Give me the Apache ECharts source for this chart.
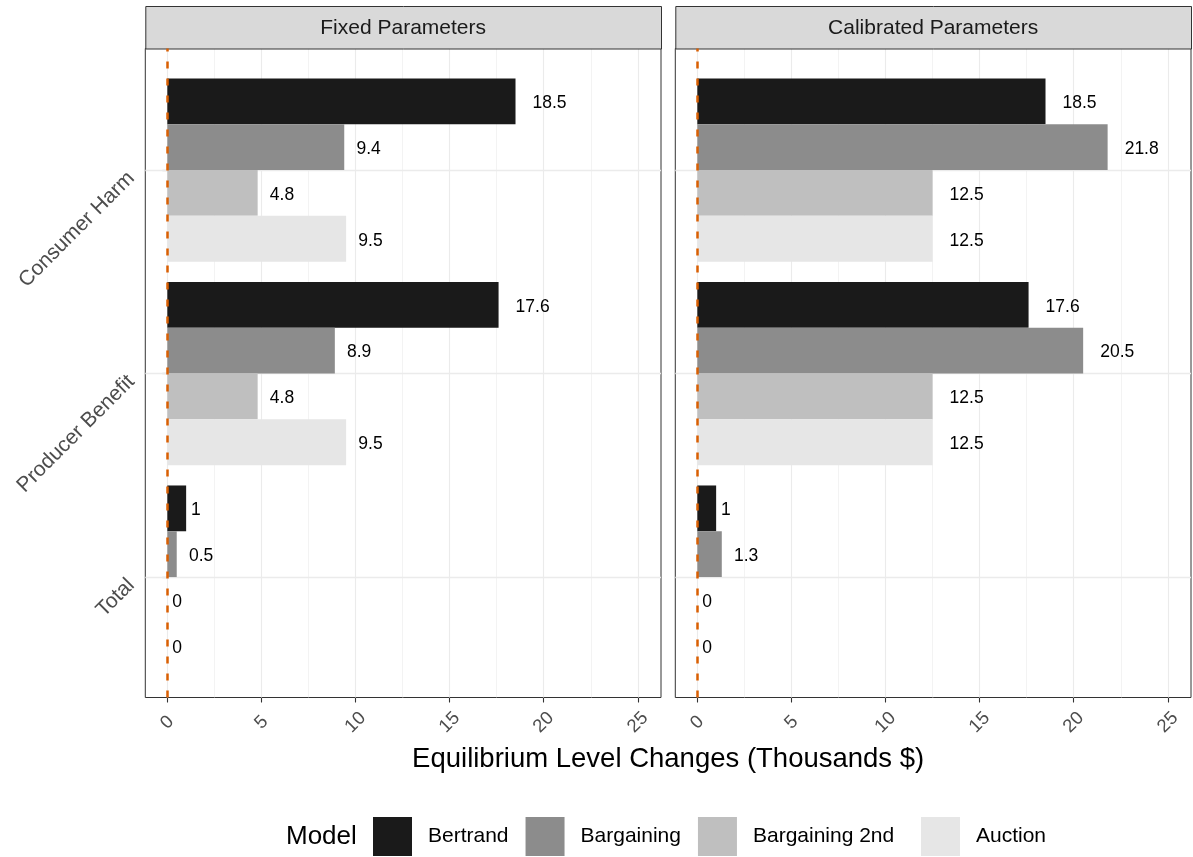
<!DOCTYPE html>
<html><head><meta charset="utf-8">
<script src="https://cdn.jsdelivr.net/npm/echarts@6/dist/echarts.min.js"></script>
<style>html,body{margin:0;padding:0;background:#fff}#c{width:1193px;height:857px}</style>
</head><body><div id="c"></div>
<script>
// ---------- data ----------
const categories = ['Consumer Harm', 'Producer Benefit', 'Total'];
const models = ['Bertrand', 'Bargaining', 'Bargaining 2nd', 'Auction'];
const panels = ['Fixed Parameters', 'Calibrated Parameters'];
const fixedBertrand = [18.5, 17.6, 1];
const fixedBargaining = [9.4, 8.9, 0.5];
const fixedBargaining2nd = [4.8, 4.8, 0];
const fixedAuction = [9.5, 9.5, 0];
const calibratedBertrand = [18.5, 17.6, 1];
const calibratedBargaining = [21.8, 20.5, 1.3];
const calibratedBargaining2nd = [12.5, 12.5, 0];
const calibratedAuction = [12.5, 12.5, 0];
const xTicks = [0, 5, 10, 15, 20, 25];
const xMinorTicks = [2.5, 7.5, 12.5, 17.5, 22.5];
const xTitle = 'Equilibrium Level Changes (Thousands $)';
const legendTitle = 'Model';

// ---------- style / layout ----------
const FONT = '"Liberation Sans", Arial, Helvetica, sans-serif';
const colors = ['#1a1a1a', '#8c8c8c', '#bfbfbf', '#e6e6e6'];
const panelData = [
  [fixedBertrand, fixedBargaining, fixedBargaining2nd, fixedAuction],
  [calibratedBertrand, calibratedBargaining, calibratedBargaining2nd, calibratedAuction]
];
const panelBoxes = [{ left: 145.3, width: 515.7 }, { left: 675.3, width: 515.7 }];
const panelTop = 48.5, panelHeight = 649;
const innerTop = 68.3, innerHeight = 610.5;
const stripTop = 6;
const xMin = -1.17, xMax = 26.23;
const LABEL_SIZE = 17.5;

const mctx = document.createElement('canvas').getContext('2d');
mctx.font = LABEL_SIZE + 'px ' + FONT;
function halfWidth(t) { return mctx.measureText(t).width / 2; }

const grids = [], xAxes = [], yAxes = [], series = [], graphics = [];
panels.forEach((pname, p) => {
  const box = panelBoxes[p];
  grids.push({ left: box.left, width: box.width, top: panelTop, height: panelHeight,
    show: true, borderColor: '#333333', borderWidth: 1, backgroundColor: 'transparent' });
  grids.push({ left: box.left, width: box.width, top: innerTop, height: innerHeight, show: false });
  const og = p * 2, ig = p * 2 + 1;
  xAxes.push({ type: 'value', gridIndex: og, min: xMin, max: xMax,
    axisLine: { show: false },
    splitLine: { show: false },
    axisTick: { show: true, customValues: xTicks, length: 5, lineStyle: { color: '#333333', width: 1.1 } },
    axisLabel: { show: true, customValues: xTicks, rotate: 45, align: 'center', verticalAlign: 'middle',
      margin: 25, fontSize: 18.5, color: '#4d4d4d', fontFamily: FONT, formatter: v => String(v) }
  });
  xAxes.push({ type: 'value', gridIndex: ig, min: xMin, max: xMax, show: false });
  yAxes.push({ type: 'value', gridIndex: og, min: 0, max: 1, show: false });
  yAxes.push({ type: 'category', gridIndex: ig, data: categories, inverse: true,
    axisLine: { show: false },
    splitLine: { show: false },
    axisTick: { show: p === 0, alignWithLabel: true, length: 5, lineStyle: { color: '#333333', width: 1.1 } },
    axisLabel: { show: p === 0, rotate: 45, margin: 19, verticalAlign: 'top', lineHeight: 14,
      fontSize: 21, color: '#4d4d4d', fontFamily: FONT }
  });
  series.push({ type: 'line', xAxisIndex: og, yAxisIndex: og, data: [], silent: true, z: 1,
    markLine: { silent: true, symbol: 'none', z: 1, animation: false, label: { show: false },
      data: xTicks.map(v => ({ xAxis: v, lineStyle: { color: '#ebebeb', width: 1.1, type: 'solid' } }))
        .concat(xMinorTicks.map(v => ({ xAxis: v, lineStyle: { color: '#ebebeb', width: 0.6, type: 'solid' } }))) }
  });
  series.push({ type: 'line', xAxisIndex: ig, yAxisIndex: ig, data: [], silent: true, z: 1,
    markLine: { silent: true, symbol: 'none', z: 1, animation: false, label: { show: false },
      data: categories.map(c => ({ yAxis: c, lineStyle: { color: '#ebebeb', width: 1.3, type: 'solid' } })) }
  });
  models.forEach((m, k) => {
    series.push({ type: 'bar', name: m, xAxisIndex: ig, yAxisIndex: ig, z: 2,
      barGap: '0%', barCategoryGap: '10%', animation: false,
      itemStyle: { color: colors[k] },
      label: { show: true, position: 'right', color: '#000', fontSize: LABEL_SIZE, fontFamily: FONT,
        offset: [0, 2], formatter: q => String(q.value) },
      data: panelData[p][k].map(v => ({ value: v, label: { distance: halfWidth(String(v)) } }))
    });
  });
  series.push({ type: 'line', xAxisIndex: og, yAxisIndex: og, data: [], silent: true, z: 10,
    markLine: { silent: true, symbol: 'none', z: 10, animation: false, label: { show: false },
      data: [{ xAxis: 0, lineStyle: { color: '#d95f02', width: 2.5, type: [7, 10] } }] }
  });
  graphics.push({ type: 'rect', left: box.left, top: stripTop, z: 5,
    shape: { x: 0, y: 0, width: box.width, height: panelTop - stripTop },
    style: { fill: '#d9d9d9', stroke: '#333333', lineWidth: 1 } });
  graphics.push({ type: 'text', x: box.left + box.width / 2, y: (stripTop + panelTop) / 2 + 1, z: 6,
    style: { text: pname, font: '21px ' + FONT, fill: '#1a1a1a', align: 'center', verticalAlign: 'middle',
      textAlign: 'center', textVerticalAlign: 'middle' } });
});

graphics.push({ type: 'text', x: (panelBoxes[0].left + panelBoxes[1].left + panelBoxes[1].width) / 2, y: 759,
  style: { text: xTitle, font: '27.5px ' + FONT, fill: '#000', align: 'center', verticalAlign: 'middle',
    textAlign: 'center', textVerticalAlign: 'middle' } });
graphics.push({ type: 'text', x: 286, y: 837,
  style: { text: legendTitle, font: '26px ' + FONT, fill: '#000', align: 'left', verticalAlign: 'middle',
    textAlign: 'left', textVerticalAlign: 'middle' } });

const legendCommon = { top: 817, padding: 0, itemWidth: 39, itemHeight: 39, itemGap: 17, icon: 'rect',
  selectedMode: false,
  textStyle: { fontSize: 21, color: '#000', fontFamily: FONT, padding: [5, 0, 0, 11] } };

const chart = echarts.init(document.getElementById('c'), null, { renderer: 'canvas' });
chart.setOption({
  backgroundColor: '#fff',
  animation: false,
  grid: grids, xAxis: xAxes, yAxis: yAxes, series: series,
  legend: [
    Object.assign({ data: models.slice(0, 3), left: 373 }, legendCommon),
    Object.assign({ data: models.slice(3), left: 921 }, legendCommon)
  ],
  graphic: graphics
});
</script></body></html>
